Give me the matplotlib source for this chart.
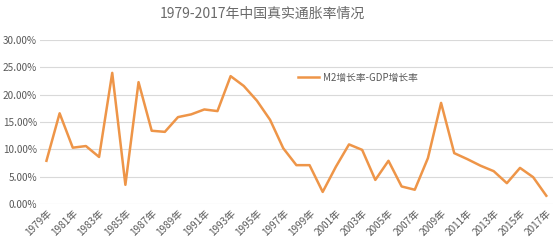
import matplotlib
matplotlib.use("Agg")
import matplotlib.pyplot as plt
from matplotlib.ticker import FuncFormatter

plt.rcParams["font.family"] = ["Noto Sans CJK SC", "DejaVu Sans"]

years = list(range(1979, 2018))
gap_rate = [7.9, 16.6, 10.3, 10.6, 8.6, 24.0, 3.5, 22.3, 13.4, 13.2,
            15.9, 16.4, 17.3, 17.0, 23.4, 21.6, 18.9, 15.4, 10.2, 7.1,
            7.1, 2.2, 6.8, 10.9, 9.9, 4.4, 7.9, 3.2, 2.6, 8.4,
            18.5, 9.3, 8.2, 7.0, 6.0, 3.8, 6.6, 4.9, 1.5]
tick_labels = [f"{y}年" for y in years]
y_ticks = [0, 5, 10, 15, 20, 25, 30]

fig = plt.figure(figsize=(5.54, 2.46), dpi=100)
ax = fig.add_axes([0.072, 0.171, 0.926, 0.666])

x = list(range(len(years)))
ax.plot(x, gap_rate, color="#EE9548", linewidth=1.8, label="M2增长率-GDP增长率")

ax.set_xlim(-0.5, len(years) - 0.5)
ax.set_ylim(0, 30)
ax.set_yticks(y_ticks)
ax.yaxis.set_major_formatter(FuncFormatter(lambda v, p: f"{v:.2f}%"))
ax.set_xticks(x[::2])
ax.set_xticklabels(tick_labels[::2], rotation=45, ha="right",
                   rotation_mode="anchor")
ax.tick_params(axis="both", length=0, labelsize=7.2, labelcolor="#595959")
ax.tick_params(axis="x", pad=3)
ax.tick_params(axis="y", pad=2)
ax.grid(axis="y", color="#D9D9D9", linewidth=0.8)
ax.set_axisbelow(True)
for s in ax.spines.values():
    s.set_visible(False)

ax.legend(loc="center", bbox_to_anchor=(0.62, 0.77), frameon=False,
          fontsize=7, labelcolor="#595959", handlelength=2.2,
          handletextpad=0.4)

fig.text(0.473, 0.945, "1979-2017年中国真实通胀率情况", ha="center",
         va="center", fontsize=10, color="#6A6A6A")

fig.savefig("out.png", dpi=100)
